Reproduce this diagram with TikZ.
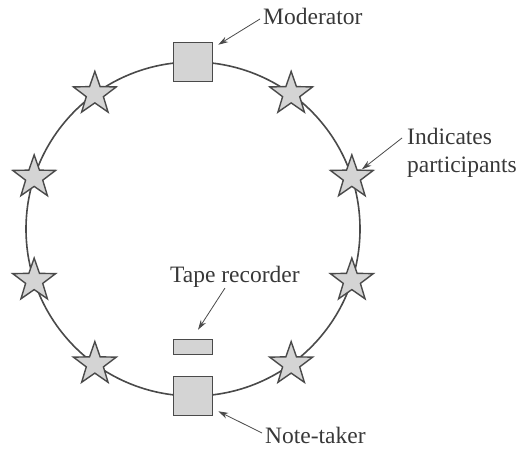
\documentclass[tikz,border=0pt]{standalone}
\usepackage{fontspec}
\setmainfont{Liberation Serif}
\usetikzlibrary{shapes.geometric,arrows.meta,calc}
\definecolor{ink}{HTML}{4A4A4A}
\definecolor{txt}{HTML}{383838}
\definecolor{shade}{HTML}{D4D4D4}
\begin{document}
\begin{tikzpicture}[x=1pt,y=-1pt,
  ring/.style={draw=ink,line width=1.6pt},
  box/.style={draw=ink,fill=shade,line width=1.5pt,inner sep=0pt},
  participant/.style={shape=star,star points=5,star point ratio=2.5,
    minimum size=45pt,inner sep=0pt,draw=ink,fill=shade,line width=1.4pt},
  lbl/.style={text=txt,inner sep=0pt,font=\fontsize{23.5}{28}\selectfont},
  pointer/.style={draw=ink,line width=0.8pt,-{Stealth[length=10pt,width=6pt]}}]
\useasboundingbox (0,0) rectangle (526,449);

% seating circle
\coordinate (c) at (193,229);
\draw[ring] (c) circle[radius=167];

% moderator, note-taker and recorder
\node[box,minimum width=39pt,minimum height=39pt] (moderator) at (193,62) {};
\node[box,minimum width=39pt,minimum height=39pt] (notetaker) at (193,396) {};
\node[box,minimum width=39pt,minimum height=15pt] (recorder) at (193,347) {};

% participants around the table
\foreach \a/\n in {-54/p1,-18/p2,18/p3,54/p4,126/p5,162/p6,198/p7,234/p8}
  \node[participant] (\n) at ($(c)+(\a:167)$) {};

% labels
\node[lbl,anchor=base west] (modlbl) at (263,25) {Moderator};
\node[lbl,anchor=base west,align=left] (partlbl) at (407,172) {Indicates\\participants};
\node[lbl,anchor=base west] (tapelbl) at (170,282) {Tape recorder};
\node[lbl,anchor=base west] (notelbl) at (265,443) {Note-taker};

% pointers
\coordinate (modtail) at ($(modlbl.base west)+(-3,-6)$);
\coordinate (parttail) at ($(partlbl.base west)+(-5,-34)$);
\coordinate (tapetail) at ($(tapelbl.base west)+(55,6)$);
\coordinate (notetail) at ($(notelbl.base west)+(-3,-10)$);

\draw[pointer] (modtail) -- ($(moderator.north east)+(5,3)$);
\draw[pointer] (parttail) -- ($(p2)+(10,-8)$);
\draw[pointer] (tapetail) -- ($(recorder.north)+(5,-9)$);
\draw[pointer] (notetail) -- ($(notetaker.south east)+(5,-5)$);
\end{tikzpicture}
\end{document}
